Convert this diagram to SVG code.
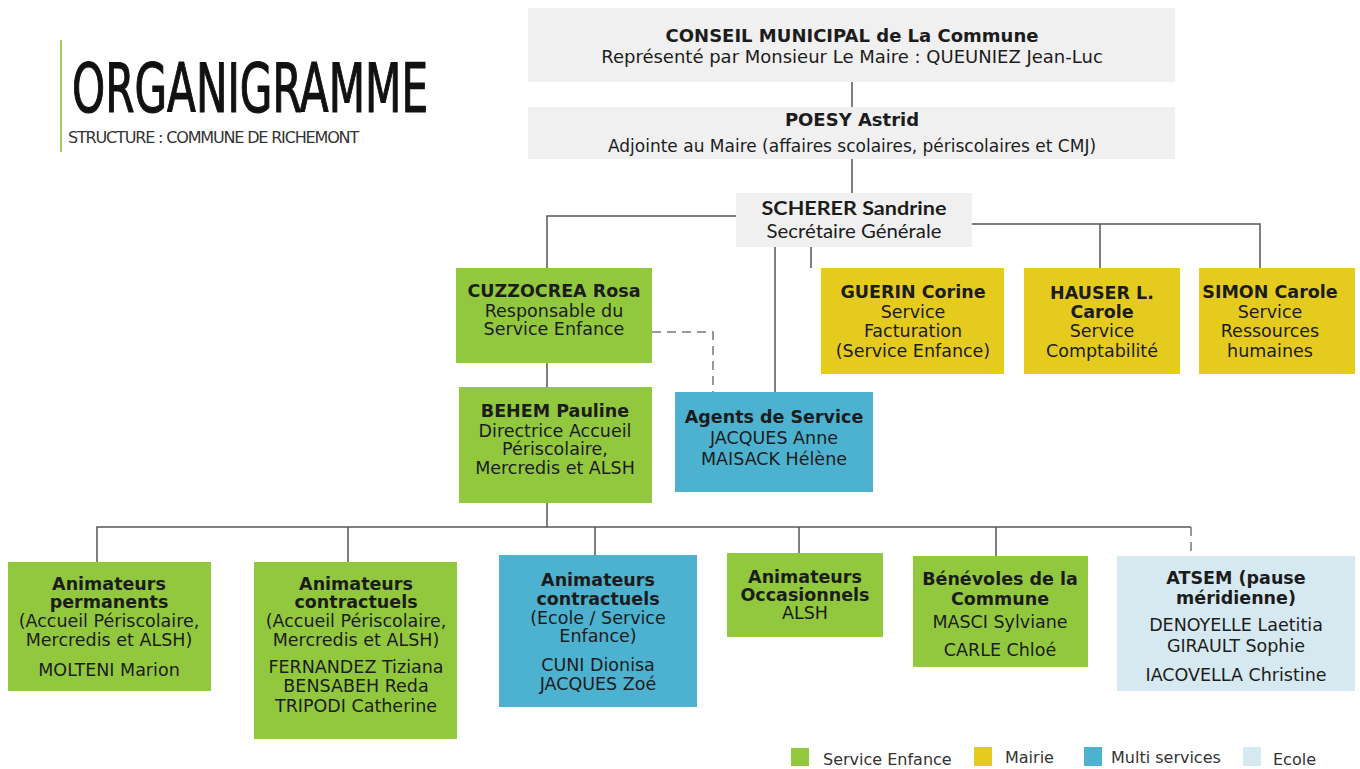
<svg xmlns="http://www.w3.org/2000/svg" width="1360" height="769" viewBox="0 0 1360 769">
<style>
text{font-family:"DejaVu Sans","Liberation Sans",sans-serif;fill:#1c1c1c;text-anchor:middle;font-size:17.5px}
.b{font-weight:bold}
.cal{font-family:Lato,"Liberation Sans",sans-serif;font-size:18.5px}
.grey{fill:#f0f0f0}
.green{fill:#92c83e}
.yellow{fill:#e6cb1f}
.blue{fill:#4cb2d0}
.lblue{fill:#d6e9f0}
.ln{stroke:#555;stroke-width:1.5;fill:none}
.dash{stroke:#777;stroke-width:1.5;fill:none;stroke-dasharray:9 6}
.leg{text-anchor:start;font-size:16px;fill:#333}
</style>
<rect width="1360" height="769" fill="#ffffff"/>
<g id="title">
<line x1="61" y1="40" x2="61" y2="152" stroke="#a8c96a" stroke-width="2"/>
<text x="72" y="112" style="font-family:'Liberation Sans Narrow','DejaVu Sans Condensed',sans-serif;font-size:68px;text-anchor:start;fill:#111;stroke:#111;stroke-width:1.2" textLength="356" lengthAdjust="spacingAndGlyphs">ORGANIGRAMME</text>
<text x="68" y="143" style="font-family:'Liberation Sans Narrow','DejaVu Sans Condensed',sans-serif;font-size:15px;text-anchor:start;fill:#333;letter-spacing:-1px" textLength="290" lengthAdjust="spacingAndGlyphs">STRUCTURE : COMMUNE DE RICHEMONT</text>
</g>
<g id="connectors">
<line class="ln" x1="852" y1="82" x2="852" y2="107"/>
<line class="ln" x1="852" y1="159" x2="852" y2="193"/>
<polyline class="ln" points="736,216 547,216 547,268"/>
<line class="ln" x1="775" y1="247" x2="775" y2="392"/>
<line class="ln" x1="811" y1="247" x2="811" y2="268"/>
<polyline class="ln" points="972,224 1260,224 1260,268"/>
<line class="ln" x1="1100" y1="224" x2="1100" y2="268"/>
<polyline class="dash" points="652,332 713,332 713,392"/>
<line class="ln" x1="547" y1="363" x2="547" y2="387"/>
<line class="ln" x1="547" y1="503" x2="547" y2="527"/>
<polyline class="ln" points="97,562 97,527 1191,527"/>
<line class="ln" x1="348" y1="527" x2="348" y2="562"/>
<line class="ln" x1="595" y1="527" x2="595" y2="555"/>
<line class="ln" x1="799" y1="527" x2="799" y2="553"/>
<line class="ln" x1="996" y1="527" x2="996" y2="556"/>
<line class="dash" x1="1191" y1="527" x2="1191" y2="556"/>
</g>
<g id="conseil">
<rect class="grey" x="528" y="8" width="647" height="74"/>
<text class="b" x="852" y="42" style="font-size:18px">CONSEIL MUNICIPAL de La Commune</text>
<text x="852" y="63" style="font-size:18px">Représenté par Monsieur Le Maire : QUEUNIEZ Jean-Luc</text>
</g>
<g id="poesy">
<rect class="grey" x="528" y="107" width="647" height="52"/>
<text class="b" x="852" y="126" style="font-size:18px">POESY Astrid</text>
<text x="852" y="152" style="font-size:17px">Adjointe au Maire (affaires scolaires, périscolaires et CMJ)</text>
</g>
<g id="scherer">
<rect class="grey" x="736" y="193" width="236" height="54"/>
<text class="cal b" x="854" y="215" textLength="185" lengthAdjust="spacingAndGlyphs">SCHERER Sandrine</text>
<text class="cal" x="854" y="238" textLength="175" lengthAdjust="spacingAndGlyphs">Secrétaire Générale</text>
</g>
<g id="cuzzocrea">
<rect class="green" x="456" y="268" width="196" height="95"/>
<text class="b" x="554" y="297">CUZZOCREA Rosa</text>
<text x="554" y="317">Responsable du</text>
<text x="554" y="335">Service Enfance</text>
</g>
<g id="behem">
<rect class="green" x="459" y="387" width="193" height="116"/>
<text class="b" x="555" y="417">BEHEM Pauline</text>
<text x="555" y="437">Directrice Accueil</text>
<text x="555" y="455">Périscolaire,</text>
<text x="555" y="474">Mercredis et ALSH</text>
</g>
<g id="agents">
<rect class="blue" x="675" y="392" width="198" height="100"/>
<text class="b" x="774" y="423">Agents de Service</text>
<text x="774" y="444">JACQUES Anne</text>
<text x="774" y="465">MAISACK Hélène</text>
</g>
<g id="guerin">
<rect class="yellow" x="821" y="268" width="183" height="106"/>
<text class="b" x="913" y="298">GUERIN Corine</text>
<text x="913" y="318">Service</text>
<text x="913" y="337">Facturation</text>
<text x="913" y="357">(Service Enfance)</text>
</g>
<g id="hauser">
<rect class="yellow" x="1024" y="268" width="156" height="106"/>
<text class="b" x="1102" y="299">HAUSER L.</text>
<text class="b" x="1102" y="318">Carole</text>
<text x="1102" y="337">Service</text>
<text x="1102" y="357">Comptabilité</text>
</g>
<g id="simon">
<rect class="yellow" x="1199" y="268" width="156" height="106"/>
<text class="b" x="1270" y="298">SIMON Carole</text>
<text x="1270" y="318">Service</text>
<text x="1270" y="337">Ressources</text>
<text x="1270" y="357">humaines</text>
</g>
<g id="anim-permanents">
<rect class="green" x="8" y="562" width="203" height="129"/>
<text class="b" x="109" y="590">Animateurs</text>
<text class="b" x="109" y="608">permanents</text>
<text x="109" y="627">(Accueil Périscolaire,</text>
<text x="109" y="646">Mercredis et ALSH)</text>
<text x="109" y="676">MOLTENI Marion</text>
</g>
<g id="anim-contractuels">
<rect class="green" x="254" y="562" width="203" height="177"/>
<text class="b" x="356" y="590">Animateurs</text>
<text class="b" x="356" y="608">contractuels</text>
<text x="356" y="627">(Accueil Périscolaire,</text>
<text x="356" y="646">Mercredis et ALSH)</text>
<text x="356" y="673">FERNANDEZ Tiziana</text>
<text x="356" y="692">BENSABEH Reda</text>
<text x="356" y="712">TRIPODI Catherine</text>
</g>
<g id="anim-contractuels-ecole">
<rect class="blue" x="499" y="555" width="198" height="152"/>
<text class="b" x="598" y="586">Animateurs</text>
<text class="b" x="598" y="605">contractuels</text>
<text x="598" y="624">(Ecole / Service</text>
<text x="598" y="642">Enfance)</text>
<text x="598" y="671">CUNI Dionisa</text>
<text x="598" y="690">JACQUES Zoé</text>
</g>
<g id="anim-occasionnels">
<rect class="green" x="727" y="553" width="156" height="84"/>
<text class="b" x="805" y="583">Animateurs</text>
<text class="b" x="805" y="601">Occasionnels</text>
<text x="805" y="619">ALSH</text>
</g>
<g id="benevoles">
<rect class="green" x="913" y="556" width="175" height="111"/>
<text class="b" x="1000" y="585">Bénévoles de la</text>
<text class="b" x="1000" y="605">Commune</text>
<text x="1000" y="628">MASCI Sylviane</text>
<text x="1000" y="656">CARLE Chloé</text>
</g>
<g id="atsem">
<rect class="lblue" x="1117" y="556" width="238" height="135"/>
<text class="b" x="1236" y="584">ATSEM (pause</text>
<text class="b" x="1236" y="604">méridienne)</text>
<text x="1236" y="631">DENOYELLE Laetitia</text>
<text x="1236" y="652">GIRAULT Sophie</text>
<text x="1236" y="681">IACOVELLA Christine</text>
</g>
<g id="legend">
<rect class="green" x="791" y="748" width="18" height="18"/>
<text class="leg" x="823" y="765">Service Enfance</text>
<rect class="yellow" x="974" y="747" width="18" height="19"/>
<text class="leg" x="1005" y="763">Mairie</text>
<rect class="blue" x="1084" y="747" width="18" height="19"/>
<text class="leg" x="1111" y="763">Multi services</text>
<rect class="lblue" x="1243" y="747" width="18" height="19"/>
<text class="leg" x="1273" y="765">Ecole</text>
</g>
</svg>
